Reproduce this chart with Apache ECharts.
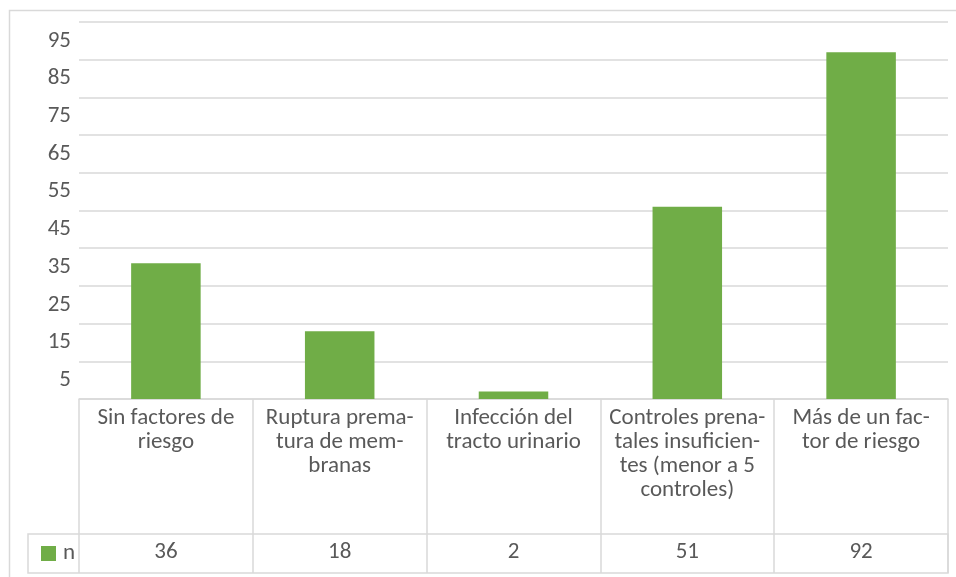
<!DOCTYPE html>
<html>
<head>
<meta charset="utf-8">
<script src="https://cdn.jsdelivr.net/npm/echarts@6/dist/echarts.min.js"></script>
<style>html,body{margin:0;padding:0;background:#fff;}#chart{width:956px;height:577px;}</style>
</head>
<body>
<div id="chart"></div>
<script>
const categories = ['Sin factores de riesgo', 'Ruptura prematura de membranas', 'Infección del tracto urinario', 'Controles prenatales insuficientes (menor a 5 controles)', 'Más de un factor de riesgo'];
const categoryLabels = ['Sin factores de\nriesgo', 'Ruptura prema-\ntura de mem-\nbranas', 'Infección del\ntracto urinario', 'Controles prena-\ntales insuficien-\ntes (menor a 5\ncontroles)', 'Más de un fac-\ntor de riesgo'];
const seriesName = 'n';
const values = [36, 18, 2, 51, 92];
const yTickLabels = [5, 15, 25, 35, 45, 55, 65, 75, 85, 95];

const FONT = 'Carlito, Lato, "Open Sans", sans-serif';
const TXT = '#595959';
const LINE = '#d9d9d9';
const FS = 23;

const chart = echarts.init(document.getElementById('chart'), null, {renderer: 'canvas'});
chart.setOption({
  animation: false,
  backgroundColor: '#ffffff',
  textStyle: {fontFamily: FONT},
  graphic: [{
    type: 'rect', silent: true, z: -1,
    shape: {x: 9.5, y: 10.5, width: 960, height: 600},
    style: {fill: 'none', stroke: LINE, lineWidth: 1.5}
  }],
  legend: {
    data: [seriesName], left: 36, top: 537, icon: 'rect', itemWidth: 15, itemHeight: 15,
    textStyle: {color: TXT, fontSize: FS, fontFamily: FONT, padding: [0, 0, 0, 2]}
  },
  grid: [
    {left: 79, right: 8, top: 22, bottom: 178, show: false},
    {left: 28, right: 8, top: 534, height: 39, show: true, borderColor: LINE, borderWidth: 1.5, backgroundColor: 'transparent'}
  ],
  xAxis: [
    {
      gridIndex: 0, type: 'category', data: categories,
      axisLine: {lineStyle: {color: LINE, width: 1.5}},
      axisTick: {show: true, length: 174, interval: 0, lineStyle: {color: LINE, width: 1.5}},
      axisLabel: {
        interval: 0, margin: 7, color: TXT, fontSize: FS, lineHeight: 24, fontFamily: FONT,
        verticalAlign: 'top', align: 'center',
        formatter: (v, i) => categoryLabels[i]
      }
    },
    {
      gridIndex: 0, type: 'category', data: values.map(String), position: 'bottom', offset: 135,
      axisLine: {show: false}, axisTick: {show: false},
      axisLabel: {interval: 0, margin: 7, color: TXT, fontSize: FS, fontFamily: FONT}
    },
    {gridIndex: 1, type: 'value', show: false}
  ],
  yAxis: [
    {
      gridIndex: 0, type: 'value', min: 0, max: 100, interval: 10, position: 'left',
      axisLine: {show: false}, axisTick: {show: false}, axisLabel: {show: false},
      splitLine: {lineStyle: {color: LINE, width: 1.5}}
    },
    {
      gridIndex: 0, type: 'value', min: 0, max: 100, interval: 5, position: 'left',
      axisLine: {show: false}, axisTick: {show: false}, splitLine: {show: false},
      axisLabel: {
        margin: 8, color: TXT, fontSize: FS, fontFamily: FONT,
        formatter: v => (yTickLabels.indexOf(v) >= 0 ? String(v) : '')
      }
    },
    {gridIndex: 1, type: 'value', show: false}
  ],
  series: [{
    name: seriesName, type: 'bar', xAxisIndex: 0, yAxisIndex: 0,
    data: values, barWidth: '40%', itemStyle: {color: '#70AD47'}
  }]
});
</script>
</body>
</html>
